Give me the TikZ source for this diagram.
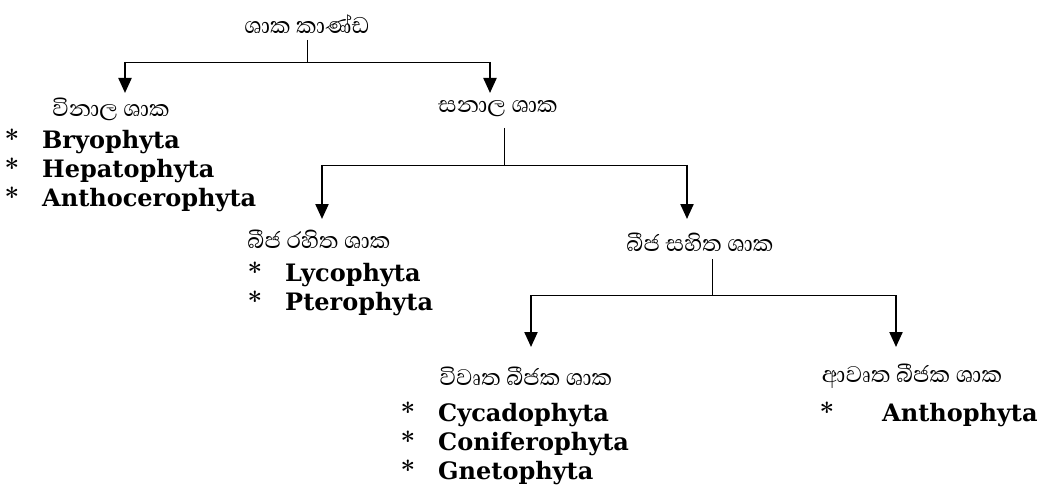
\documentclass[tikz,border=0pt]{standalone}
\usepackage{fontspec}
\newfontfamily\sinhalafont[Script=Sinhala]{Abhaya Libre}
\newfontfamily\itemfont{DejaVu Serif}
\usetikzlibrary{arrows.meta}
\tikzset{
  lab/.style={font=\sinhalafont\fontsize{29}{34}\selectfont, inner sep=0pt, anchor=center},
  item/.style={font=\itemfont\bfseries\fontsize{24}{28}\selectfont, inner sep=0pt, anchor=base west},
  star/.style={font=\bfseries\fontsize{26}{30}\selectfont, inner sep=0pt, anchor=base},
  conn/.style={line width=0.9pt},
  arr/.style={line width=2.2pt, -{Triangle[width=13pt,length=15pt]}}
}
\begin{document}
\begin{tikzpicture}[x=1pt,y=1pt]
\useasboundingbox (0,0) rectangle (1038,-489);
% labels
\node[lab] (root) at (307,-24) {ශාක කාණ්ඩ};
\node[lab] (vin) at (111,-109) {විනාල ශාක};
\node[lab] (san) at (498,-109) {සනාල ශාක};
\node[lab] (rah) at (319,-239) {බීජ රහිත ශාක};
\node[lab] (sah) at (700,-242) {බීජ සහිත ශාක};
\node[lab] (viv) at (526,-376) {විවෘත බීජක ශාක};
\node[lab] (avr) at (912,-376) {ආවෘත බීජක ශාක};
% items
\node[star] (s1) at (12,-149) {*};
\node[item] (i1) at (42,-149) {Bryophyta};
\node[star] (s2) at (12,-178) {*};
\node[item] (i2) at (42,-178) {Hepatophyta};
\node[star] (s3) at (12,-206) {*};
\node[item] (i3) at (42,-206) {Anthocerophyta};
\node[star] (s4) at (255,-281) {*};
\node[item] (i4) at (285,-281) {Lycophyta};
\node[star] (s5) at (255,-310) {*};
\node[item] (i5) at (285,-310) {Pterophyta};
\node[star] (s6) at (408,-421) {*};
\node[item] (i6) at (438,-421) {Cycadophyta};
\node[star] (s7) at (408,-450) {*};
\node[item] (i7) at (438,-450) {Coniferophyta};
\node[star] (s8) at (408,-479) {*};
\node[item] (i8) at (438,-479) {Gnetophyta};
\node[star] (s9) at (827,-421) {*};
\node[item] (i9) at (882,-421) {Anthophyta};
% level 1
\coordinate (t1) at (307,-40);
\coordinate (j1) at (307,-62);
\coordinate (l1) at (125,-62);
\coordinate (r1) at (490,-62);
\coordinate (l1e) at (125,-93);
\coordinate (r1e) at (490,-93);
\draw[conn] (t1) -- (j1);
\draw[conn] (l1) -- (r1);
\draw[arr] (l1) -- (l1e);
\draw[arr] (r1) -- (r1e);
% level 2
\coordinate (t2) at (504,-128);
\coordinate (j2) at (504,-165);
\coordinate (l2) at (322,-165);
\coordinate (r2) at (687,-165);
\coordinate (l2e) at (322,-219);
\coordinate (r2e) at (687,-219);
\draw[conn] (t2) -- (j2);
\draw[conn] (l2) -- (r2);
\draw[arr] (l2) -- (l2e);
\draw[arr] (r2) -- (r2e);
% level 3
\coordinate (t3) at (712,-259);
\coordinate (j3) at (712,-295);
\coordinate (l3) at (531,-295);
\coordinate (r3) at (896,-295);
\coordinate (l3e) at (531,-347);
\coordinate (r3e) at (896,-347);
\draw[conn] (t3) -- (j3);
\draw[conn] (l3) -- (r3);
\draw[arr] (l3) -- (l3e);
\draw[arr] (r3) -- (r3e);
\end{tikzpicture}
\end{document}
